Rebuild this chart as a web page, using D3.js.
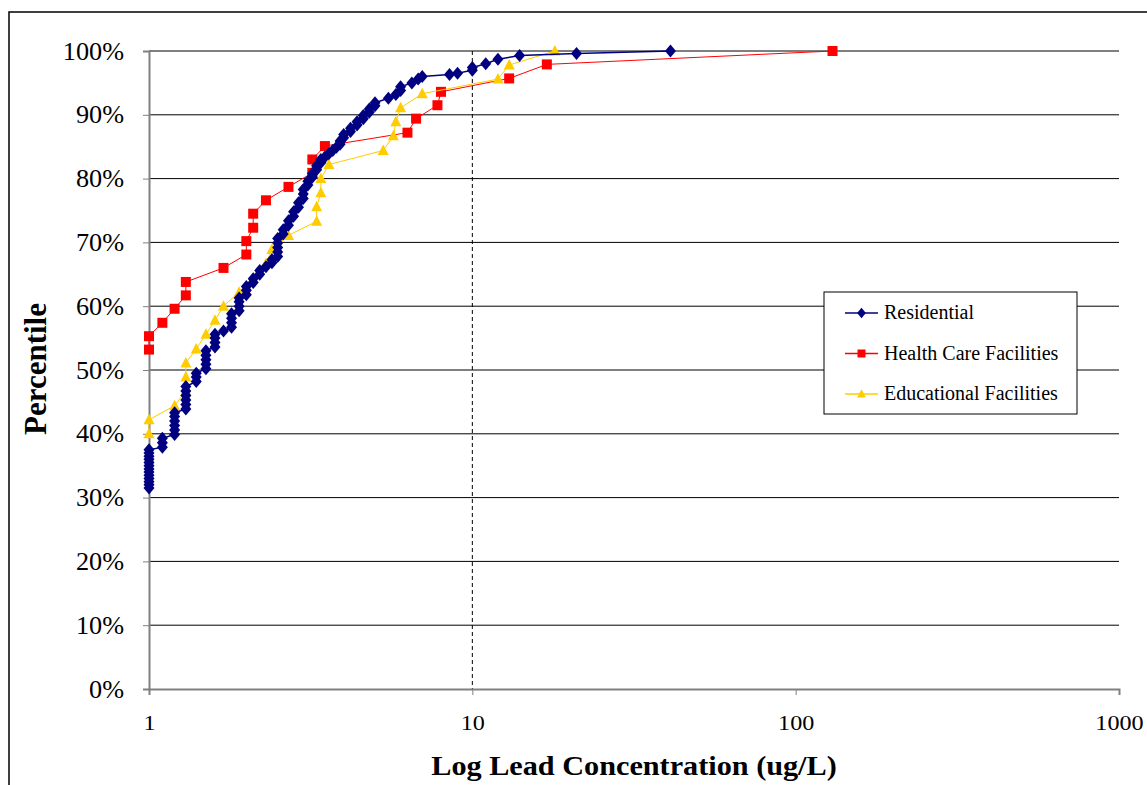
<!DOCTYPE html>
<html><head><meta charset="utf-8">
<script src="https://cdn.jsdelivr.net/npm/d3@7"></script>
<style>
html,body{margin:0;padding:0;background:#fff;}
svg{display:block;font-family:"Liberation Serif","Times New Roman",serif;}
</style></head>
<body><svg id="c" width="1147" height="785"></svg>
<script>
// ---------- DATA ----------
const xTicks = [1, 10, 100, 1000];
const yTicks = [0, 0.1, 0.2, 0.3, 0.4, 0.5, 0.6, 0.7, 0.8, 0.9, 1.0];
const seriesNames = ["Residential", "Health Care Facilities", "Educational Facilities"];

// Residential: concentration levels and the percentiles observed at each level
const resLevels = [1.0, 1.1, 1.2, 1.3, 1.4, 1.5, 1.6, 1.7, 1.8, 1.9, 2.0, 2.1, 2.2, 2.3, 2.4, 2.5, 2.6, 2.7, 2.8, 2.9,
  3.0, 3.1, 3.2, 3.3, 3.4, 3.5, 3.6, 3.7, 3.8, 3.9, 4.0, 4.2, 4.4, 4.6, 4.8, 5.0, 5.5, 5.8, 6.0, 6.5, 6.8, 7.0,
  8.5, 9.0, 10, 11, 12, 14, 21, 41];
const resPct = [
  [31.5,32.0,32.5,33.0,33.5,34.0,34.5,35.0,35.5,36.0,36.5,37.0,37.5],
  [37.9,38.6,39.3],
  [39.9,40.6,41.3,42.0,42.7,43.3],
  [43.9,44.6,45.3,46.0,46.7,47.4],
  [48.2,48.9,49.5],
  [50.2,50.9,51.6,52.3,53.0],
  [53.6,54.3,55.0,55.6],
  [56.1],
  [56.7,57.4,58.1,58.8],
  [59.3,60.0,60.7,61.3],
  [61.8,62.5,63.1],
  [63.7,64.3],
  [65.0,65.6],
  [66.2],
  [66.8,67.3],
  [67.8,68.5,69.2,69.9,70.6],
  [71.3,72.0],
  [72.7,73.4],
  [74.1,74.8],
  [75.5,76.2],
  [76.9,77.6,78.3],
  [79.0,79.6],
  [80.2,80.8],
  [81.4,82.0],
  [82.5,83.0],
  [83.4],
  [83.9],
  [84.4],
  [84.9],
  [85.4,85.9],
  [86.4,86.9],
  [87.4,87.9],
  [88.4,88.9],
  [89.4,89.9],
  [90.4,90.9],
  [91.4,91.9],
  [92.6],
  [93.2],
  [93.8,94.4],
  [95.0],
  [95.6],
  [96.0],
  [96.3],
  [96.5],
  [97.0,97.4],
  [98.0],
  [98.7],
  [99.3],
  [99.6],
  [100]
];

// Health Care Facilities
const hcConc = [1.0, 1.0, 1.1, 1.2, 1.3, 1.3, 1.7, 2.0, 2.0, 2.1, 2.1, 2.3, 2.7, 3.2, 3.2, 3.5, 6.3, 6.7, 7.8, 8.0, 13, 17, 130];
const hcPct  = [53.2, 55.3, 57.4, 59.6, 61.7, 63.8, 66.0, 68.1, 70.2, 72.3, 74.5, 76.6, 78.7, 80.9, 83.0, 85.1, 87.2, 89.4, 91.5, 93.6, 95.7, 97.9, 100];

// Educational Facilities
const edConc = [1.0, 1.0, 1.2, 1.3, 1.3, 1.3, 1.4, 1.5, 1.6, 1.7, 1.9, 2.1, 2.3, 2.4, 2.7, 3.3, 3.3, 3.4, 3.4, 3.6, 5.3, 5.7, 5.8, 6.0, 7.0, 12, 13, 18];
const edPct  = [40.0, 42.2, 44.4, 46.7, 48.9, 51.1, 53.3, 55.6, 57.8, 60.0, 62.2, 64.4, 66.7, 68.9, 71.1, 73.3, 75.6, 77.8, 80.0, 82.2, 84.4, 86.7, 88.9, 91.1, 93.3, 95.6, 97.8, 100];

// ---------- CHART ----------
const svg = d3.select("#c");
const x = d3.scaleLog().domain([1, 1000]).range([149, 1119]);
const y = d3.scaleLinear().domain([0, 1]).range([689, 51]);

// outer frame
svg.append("path").attr("d", "M9,785 L9,12 L1147,12")
  .attr("fill", "none").attr("stroke", "#000").attr("stroke-width", 1.5);

// gridlines
svg.append("g").selectAll("line").data(yTicks.slice(1)).join("line")
  .attr("x1", x(1)).attr("x2", x(1000))
  .attr("y1", d => y(d)).attr("y2", d => y(d))
  .attr("stroke", "#000").attr("stroke-width", 1);

// dashed reference line at 10
svg.append("line").attr("x1", x(10)).attr("x2", x(10))
  .attr("y1", y(1)).attr("y2", y(0))
  .attr("stroke", "#000").attr("stroke-width", 1).attr("stroke-dasharray", "4,3");

// axes
const yAxis = svg.append("g").attr("transform", `translate(${x(1)},0)`)
  .call(d3.axisLeft(y).tickValues(yTicks).tickFormat(d3.format(".0%")).tickSize(6).tickPadding(0));
const xAxis = svg.append("g").attr("transform", `translate(0,${y(0)})`)
  .call(d3.axisBottom(x).tickValues(xTicks).tickFormat(d3.format("d")).tickSize(6).tickPadding(20));
[yAxis, xAxis].forEach(g => {
  g.select(".domain").attr("stroke", "#808080").attr("stroke-width", 2);
  g.selectAll(".tick line").attr("stroke", "#808080");
  g.selectAll("text").attr("font-family", "Liberation Serif").attr("fill", "#000");
});
yAxis.selectAll("text").attr("font-size", 25).attr("x", 0)
  .attr("transform", "translate(-25,0) scale(1.05,1)");
xAxis.selectAll("text").attr("font-size", 21).attr("transform", "scale(1.15,1)");

// axis titles
svg.append("text").attr("transform", "translate(634,775) scale(1.08,1)").attr("text-anchor", "middle")
  .attr("font-size", 28).attr("font-weight", "bold").text("Log Lead Concentration (ug/L)");
svg.append("text").attr("transform", "translate(46,369) rotate(-90)").attr("text-anchor", "middle")
  .attr("font-size", 31).attr("font-weight", "bold").text("Percentile");

// build series
const resData = [];
resLevels.forEach((c, i) => resPct[i].forEach(p => resData.push([c, p / 100])));
const hcData = hcConc.map((c, i) => [c, hcPct[i] / 100]);
const edData = edConc.map((c, i) => [c, edPct[i] / 100]);

const line = d3.line().x(d => x(d[0])).y(d => y(d[1]));
const diamond = "M0,-6.5L5.5,0L0,6.5L-5.5,0Z";
const square = "M-5,-5H5V5H-5Z";
const triangle = "M0,-6L5.5,4.5H-5.5Z";

function drawSeries(data, color, markerPath, lw) {
  const g = svg.append("g");
  g.append("path").datum(data).attr("d", line).attr("fill", "none")
    .attr("stroke", color).attr("stroke-width", lw);
  g.selectAll("path.m").data(data).join("path").attr("class", "m")
    .attr("d", markerPath)
    .attr("transform", d => `translate(${x(d[0])},${y(d[1])})`)
    .attr("fill", color);
}
drawSeries(hcData, "#FF0000", square, 1);
drawSeries(edData, "#FFCC00", triangle, 1);
drawSeries(resData, "#000080", diamond, 1.5);

// legend
const lg = svg.append("g").attr("transform", "translate(824,292)");
lg.append("rect").attr("width", 253).attr("height", 122).attr("fill", "#fff")
  .attr("stroke", "#000").attr("stroke-width", 1);
const legendItems = [
  {name: seriesNames[0], color: "#000080", m: diamond},
  {name: seriesNames[1], color: "#FF0000", m: square},
  {name: seriesNames[2], color: "#FFCC00", m: triangle}
];
legendItems.forEach((it, i) => {
  const cy = 21 + i * 40.5;
  lg.append("line").attr("x1", 21).attr("x2", 54).attr("y1", cy).attr("y2", cy)
    .attr("stroke", it.color).attr("stroke-width", 1.5);
  lg.append("path").attr("d", it.m).attr("transform", `translate(37.5,${cy}) scale(0.8)`).attr("fill", it.color);
  lg.append("text").attr("x", 60).attr("y", cy + 6).attr("font-size", 20).text(it.name);
});
</script></body></html>
